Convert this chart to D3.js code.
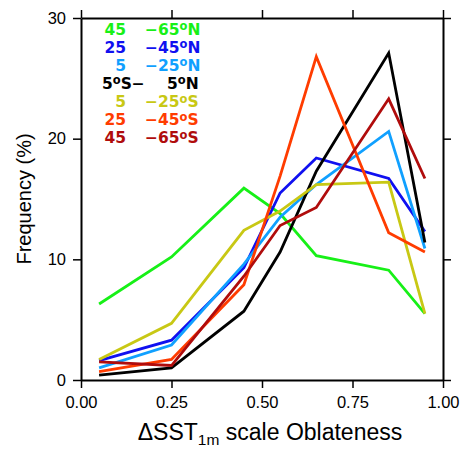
<!DOCTYPE html>
<html>
<head>
<meta charset="utf-8">
<script src="https://cdn.jsdelivr.net/npm/d3@7"></script>
<style>
body { margin: 0; background: #fff; }
text { font-family: "Liberation Sans", Arial, sans-serif; }
text.leg { font-family: "DejaVu Sans", sans-serif; font-weight: bold; font-size: 15.5px; }
</style>
</head>
<body>
<div id="chart"></div>
<script>
var width = 462, height = 450;

// bin centres of oblateness
var bins = [0.05, 0.25, 0.45, 0.55, 0.65, 0.85, 0.95];

var band45N = [6.3, 10.2, 15.9, 13.8, 10.3, 9.1, 5.5];
var band25N = [1.6, 3.3, 9.3, 15.5, 18.4, 16.7, 12.3];
var band5N  = [1.0, 2.9, 9.6, 13.5, 16.2, 20.6, 10.9];
var bandEq  = [0.4, 1.0, 5.7, 10.6, 17.3, 27.1, 11.4];
var band5S  = [1.7, 4.7, 12.4, 14.0, 16.2, 16.4, 5.5];
var band25S = [0.7, 1.7, 7.9, 16.9, 26.8, 12.2, 10.6];
var band45S = [1.5, 1.2, 8.6, 12.8, 14.3, 23.3, 16.7];

var seriesNames = ["45N", "25N", "5N", "EQ", "5S", "25S", "45S"];
var seriesColors = ["#17f017", "#1010f0", "#10a0ff", "#000000", "#c8c814", "#ff3c00", "#b00c0c"];
var seriesValues = [band45N, band25N, band5N, bandEq, band5S, band25S, band45S];

// legend pieces
var legendLeft  = ["45", "25", "5", "5", "5", "25", "45"];
var legendRight = ["\u221265", "\u221245", "\u221225", "5", "\u221225", "\u221245", "\u221265"];
var legendHemi  = ["N", "N", "N", "N", "S", "S", "S"];

var xTicks = [0, 0.25, 0.5, 0.75, 1.0];
var yTicks = [0, 10, 20, 30];

var margin = {left: 81, right: 19, top: 18, bottom: 70};

var svg = d3.select("#chart")
  .append("svg")
  .attr("width", width)
  .attr("height", height);

var x = d3.scaleLinear().domain([0, 1]).range([margin.left, width - margin.right]);
var y = d3.scaleLinear().domain([0, 30]).range([height - margin.bottom, margin.top]);

var line = d3.line()
  .x(function(d, i) { return x(bins[i]); })
  .y(function(d) { return y(d); });

seriesValues.forEach(function(vals, k) {
  svg.append("path")
    .datum(vals)
    .attr("fill", "none")
    .attr("stroke", seriesColors[k])
    .attr("stroke-width", 2.8)
    .attr("stroke-linejoin", "miter")
    .attr("d", line);
});

// frame with outward ticks on all sides
function styleAxis(g) {
  g.selectAll("path.domain").attr("stroke", "#000").attr("stroke-width", 2);
  g.selectAll(".tick line").attr("stroke", "#000").attr("stroke-width", 1.5);
  g.selectAll(".tick text").attr("fill", "#000")
    .style("font-family", "Liberation Sans, Arial, sans-serif")
    .style("font-size", "16.5px");
}

var xb = svg.append("g")
  .attr("transform", "translate(0," + y(0) + ")")
  .call(d3.axisBottom(x).tickValues(xTicks).tickFormat(d3.format(".2f")).tickSize(8).tickSizeOuter(0).tickPadding(8));
styleAxis(xb);

var xt = svg.append("g")
  .attr("transform", "translate(0," + y(30) + ")")
  .call(d3.axisTop(x).tickValues(xTicks).tickFormat("").tickSize(8).tickSizeOuter(0));
styleAxis(xt);

var yl = svg.append("g")
  .attr("transform", "translate(" + x(0) + ",0)")
  .call(d3.axisLeft(y).tickValues(yTicks).tickSize(8).tickSizeOuter(0).tickPadding(7));
styleAxis(yl);

var yr = svg.append("g")
  .attr("transform", "translate(" + x(1) + ",0)")
  .call(d3.axisRight(y).tickValues(yTicks).tickFormat("").tickSize(8).tickSizeOuter(0));
styleAxis(yr);

// legend
var leg = svg.append("g");

function degree(t, hemi) {
  t.append("tspan").attr("dy", -4.7).style("font-size", "11.5px").text("o");
  t.append("tspan").attr("dy", 4.7).text(hemi);
}

seriesNames.forEach(function(name, i) {
  var by = 35 + i * 18.05;
  var row = leg.append("g").attr("fill", seriesColors[i]);
  if (name === "EQ") {
    var t1 = row.append("text").attr("class", "leg").attr("x", 102).attr("y", by);
    t1.append("tspan").text("5");
    degree(t1, "S\u2212");
    var t2 = row.append("text").attr("class", "leg").attr("x", 167).attr("y", by);
    t2.append("tspan").text("5");
    degree(t2, "N");
  } else {
    row.append("text").attr("class", "leg").attr("x", 126).attr("y", by).attr("text-anchor", "end").text(legendLeft[i]);
    var t = row.append("text").attr("class", "leg").attr("x", 145).attr("y", by);
    t.append("tspan").text(legendRight[i]);
    degree(t, legendHemi[i]);
  }
});

// axis titles
svg.append("text")
  .attr("transform", "translate(31," + ((y(0) + y(30)) / 2) + ") rotate(-90)")
  .attr("text-anchor", "middle")
  .style("font-size", "20px")
  .text("Frequency (%)");

var xl = svg.append("text")
  .attr("x", (x(0) + x(1)) / 2 + 8)
  .attr("y", 440)
  .attr("text-anchor", "middle")
  .style("font-size", "23px");
xl.append("tspan").text("\u0394SST");
xl.append("tspan").attr("dy", 5).style("font-size", "15.5px").text("1m");
xl.append("tspan").attr("dy", -5).text(" scale Oblateness");
</script>
</body>
</html>
